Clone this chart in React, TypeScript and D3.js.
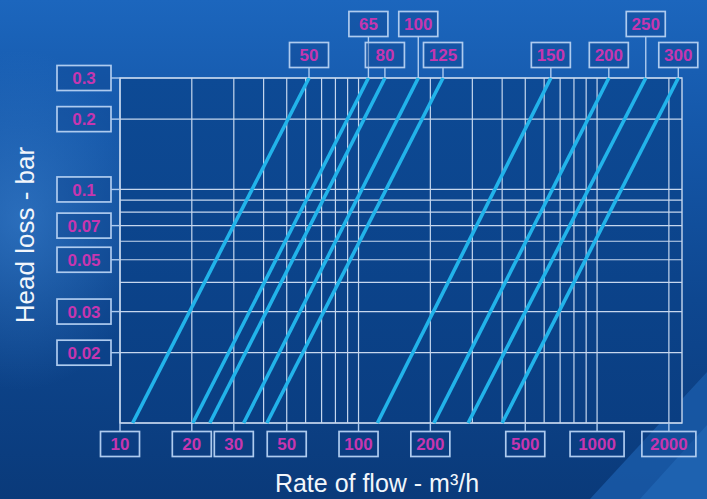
import React, { useEffect, useRef } from 'react'
import * as d3 from 'd3'

// Pipe sizes (DN) and the flow (m³/h) where each line meets 0.3 bar and 0.01 bar
const pipeSizes = [50, 65, 80, 100, 125, 150, 200, 250, 300]
const flowAtMaxLoss = [62, 110, 129, 178, 226, 640, 1120, 1600, 2190]
const flowAtMinLoss = [11.3, 20.2, 23.8, 33, 41.3, 120, 207, 288, 400]
const raisedSizes = [65, 100, 250]

const flowDomain = [10, 2270]
const flowGrid = [10, 20, 30, 40, 50, 60, 70, 80, 90, 100, 200, 300, 400, 500, 600, 700, 800, 900, 1000, 2000]
const flowLabels = [10, 20, 30, 50, 100, 200, 500, 1000, 2000]

const lossDomain = [0.01, 0.3]
const lossGrid = [0.01, 0.02, 0.03, 0.04, 0.05, 0.06, 0.07, 0.08, 0.09, 0.1, 0.2, 0.3]
const lossLabels = [0.3, 0.2, 0.1, 0.07, 0.05, 0.03, 0.02]

export default function App() {
  const svgRef = useRef<SVGSVGElement | null>(null)

  useEffect(() => {
    if (!svgRef.current) return
    const width = 707
    const height = 499
    const font = '"Liberation Sans", Arial, sans-serif'

    const svg = d3.select(svgRef.current)
    svg.selectAll('*').remove()
    svg.attr('width', width).attr('height', height)

    // background
    const defs = svg.append('defs')
    const bg = defs.append('linearGradient').attr('id', 'bg')
      .attr('x1', 0).attr('y1', 0).attr('x2', 0).attr('y2', 1)
    bg.append('stop').attr('offset', '0%').attr('stop-color', '#1c66bd')
    bg.append('stop').attr('offset', '25%').attr('stop-color', '#1558aa')
    bg.append('stop').attr('offset', '60%').attr('stop-color', '#0e4790')
    bg.append('stop').attr('offset', '100%').attr('stop-color', '#0a3a7a')

    const glow = defs.append('radialGradient').attr('id', 'glow')
    glow.append('stop').attr('offset', '0%').attr('stop-color', '#3f86d4').attr('stop-opacity', 0.55)
    glow.append('stop').attr('offset', '100%').attr('stop-color', '#3f86d4').attr('stop-opacity', 0)

    const plotFill = defs.append('linearGradient').attr('id', 'plotFill')
      .attr('x1', 0).attr('y1', 0).attr('x2', 0).attr('y2', 1)
    plotFill.append('stop').attr('offset', '0%').attr('stop-color', '#0d4a95')
    plotFill.append('stop').attr('offset', '100%').attr('stop-color', '#0a3e82')

    svg.append('rect').attr('width', width).attr('height', height).attr('fill', 'url(#bg)')
    svg.append('ellipse').attr('cx', 20).attr('cy', 220).attr('rx', 130).attr('ry', 170).attr('fill', 'url(#glow)')
    svg.append('polygon').attr('points', '590,499 707,372 707,499').attr('fill', '#1a5ba8').attr('opacity', 0.85)
    svg.append('polygon').attr('points', '640,499 707,425 707,499').attr('fill', '#2268b6').attr('opacity', 0.7)

    // scales
    const x = d3.scaleLog().domain(flowDomain).range([120, 682])
    const y = d3.scaleLog().domain(lossDomain).range([423, 78])
    const [x0, x1] = x.range()
    const [y0, y1] = y.range()

    svg.append('rect')
      .attr('x', x0).attr('y', y1).attr('width', x1 - x0).attr('height', y0 - y1)
      .attr('fill', 'url(#plotFill)')

    const gridColor = '#c6d7ee'

    // grid
    svg.append('g').selectAll('line').data(flowGrid).enter().append('line')
      .attr('x1', d => x(d)).attr('x2', d => x(d))
      .attr('y1', y1).attr('y2', y0)
      .attr('stroke', gridColor).attr('stroke-width', 1.2)

    svg.append('g').selectAll('line').data(lossGrid).enter().append('line')
      .attr('x1', x0).attr('x2', x1)
      .attr('y1', d => y(d)).attr('y2', d => y(d))
      .attr('stroke', gridColor).attr('stroke-width', 1.2)

    svg.append('rect')
      .attr('x', x0).attr('y', y1).attr('width', x1 - x0).attr('height', y0 - y1)
      .attr('fill', 'none').attr('stroke', gridColor).attr('stroke-width', 1.4)

    // head loss lines per pipe size
    const line = d3.line<[number, number]>()
      .x(d => x(d[0]))
      .y(d => y(d[1]))

    svg.append('g').selectAll('path').data(pipeSizes).enter().append('path')
      .attr('d', (_, i) => line([[flowAtMinLoss[i], lossDomain[0]], [flowAtMaxLoss[i], lossDomain[1]]]))
      .attr('stroke', '#22b3ea').attr('stroke-width', 3.6).attr('fill', 'none')

    // boxed label helper
    const boxColor = '#aecbef'
    const textColor = '#c636b0'
    const addBox = (cx: number, cy: number, w: number, label: string) => {
      const g = svg.append('g')
      g.append('rect')
        .attr('x', cx - w / 2).attr('y', cy - 12.5).attr('width', w).attr('height', 25)
        .attr('fill', '#0c3f86').attr('fill-opacity', 0.35)
        .attr('stroke', boxColor).attr('stroke-width', 1.7)
      g.append('text')
        .attr('x', cx).attr('y', cy).attr('dy', '0.36em')
        .attr('text-anchor', 'middle')
        .style('font-family', font).style('font-size', '17px').style('font-weight', 'bold')
        .attr('fill', textColor)
        .text(label)
    }

    // y labels
    lossLabels.forEach(v => {
      svg.append('line')
        .attr('x1', 111).attr('x2', x0).attr('y1', y(v)).attr('y2', y(v))
        .attr('stroke', boxColor).attr('stroke-width', 1.4)
      addBox(84, y(v), 54, String(v))
    })

    // x labels
    flowLabels.forEach(v => {
      const w = String(v).length > 3 ? 54 : 39
      svg.append('line')
        .attr('x1', x(v)).attr('x2', x(v)).attr('y1', y0).attr('y2', 431)
        .attr('stroke', boxColor).attr('stroke-width', 1.4)
      addBox(x(v), 444, w, String(v))
    })

    // pipe size labels on top
    pipeSizes.forEach((s, i) => {
      const cx = x(flowAtMaxLoss[i])
      const cy = raisedSizes.includes(s) ? 24 : 55
      svg.append('line')
        .attr('x1', cx).attr('x2', cx).attr('y1', cy + 12.5).attr('y2', y1)
        .attr('stroke', boxColor).attr('stroke-width', 1.4)
      addBox(cx, cy, 39, String(s))
    })

    // axis titles
    svg.append('text')
      .attr('transform', 'translate(34, 235) rotate(-90)')
      .attr('text-anchor', 'middle')
      .style('font-family', font).style('font-size', '26px')
      .attr('fill', '#f2f6fb')
      .text('Head loss - bar')

    svg.append('text')
      .attr('x', 377).attr('y', 492)
      .attr('text-anchor', 'middle')
      .style('font-family', font).style('font-size', '25px')
      .attr('fill', '#f2f6fb')
      .text('Rate of flow - m³/h')
  }, [])

  return (
    <svg ref={svgRef} style={{ position: 'absolute', left: 0, top: 0, display: 'block' }}></svg>
  )
}
